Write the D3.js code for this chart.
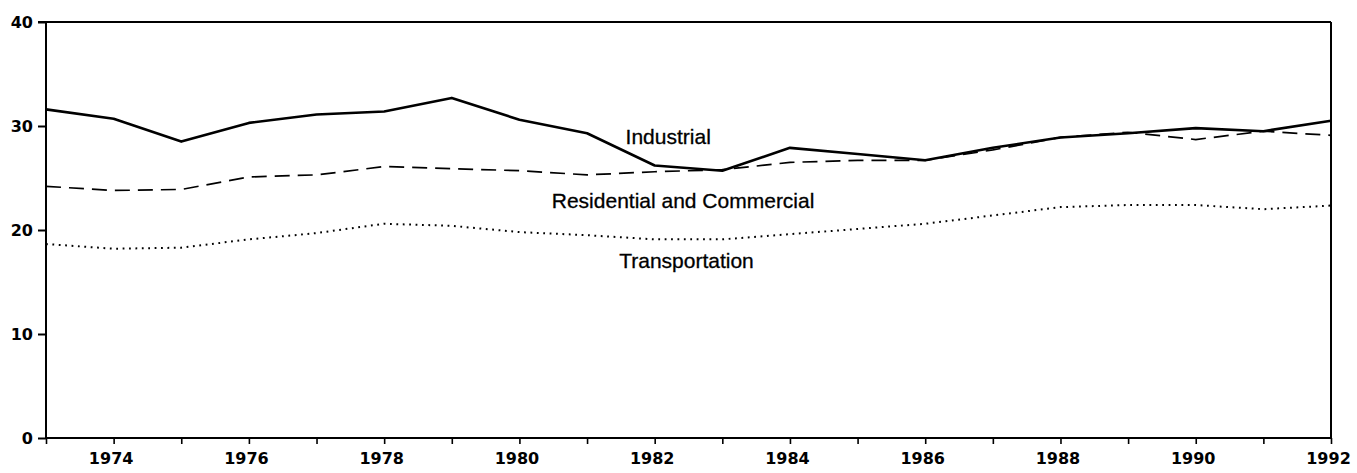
<!DOCTYPE html>
<html>
<head>
<meta charset="utf-8">
<script src="https://cdn.jsdelivr.net/npm/d3@7"></script>
<style>
  html, body { margin: 0; padding: 0; background: #fff; }
  svg { display: block; }
</style>
</head>
<body>
<svg id="chart" width="1357" height="473"></svg>
<script>
const years = d3.range(1973, 1993);
const industrial = [31.6, 30.7, 28.5, 30.3, 31.1, 31.4, 32.7, 30.6, 29.3, 26.2, 25.7, 27.9, 27.3, 26.7, 27.9, 28.9, 29.3, 29.8, 29.5, 30.5];
const residential = [24.2, 23.8, 23.9, 25.1, 25.3, 26.1, 25.9, 25.7, 25.3, 25.6, 25.8, 26.5, 26.7, 26.7, 27.7, 28.9, 29.4, 28.7, 29.5, 29.1];
const transportation = [18.65, 18.2, 18.3, 19.1, 19.7, 20.6, 20.4, 19.8, 19.5, 19.1, 19.1, 19.6, 20.1, 20.6, 21.4, 22.2, 22.4, 22.4, 22.0, 22.35];
const yTicks = [0, 10, 20, 30, 40];
const xLabelYears = [1974, 1976, 1978, 1980, 1982, 1984, 1986, 1988, 1990, 1992];
const seriesLabels = [
  { text: "Industrial", year: 1982.2, value: 28.3 },
  { text: "Residential and Commercial", year: 1982.42, value: 22.1 },
  { text: "Transportation", year: 1982.47, value: 16.35 }
];

const svg = d3.select("#chart");
const x = d3.scaleLinear().domain([1973, 1992]).range([46, 1331]);
const y = d3.scaleLinear().domain([0, 40]).range([438, 22]);

// Frame top and right
svg.append("line").attr("x1", 46).attr("x2", 1331).attr("y1", y(40)).attr("y2", y(40))
  .attr("stroke", "#000").attr("stroke-width", 2);
svg.append("line").attr("x1", 1331).attr("x2", 1331).attr("y1", y(40)).attr("y2", y(0))
  .attr("stroke", "#000").attr("stroke-width", 2);

const tickFont = "DejaVu Sans, Verdana, sans-serif";

// Y axis
const yAxis = d3.axisLeft(y).tickValues(yTicks).tickSize(8).tickPadding(5).tickFormat(d3.format("d"));
const gy = svg.append("g").attr("transform", "translate(46,0)").call(yAxis);
gy.select(".domain").attr("stroke-width", 2).attr("d", `M-8,${y(40)}H0V${y(0)}`);
gy.selectAll(".tick line").attr("stroke-width", 2);
gy.selectAll(".tick text").attr("font-family", tickFont)
  .attr("font-weight", "bold").attr("font-size", 16).attr("fill", "#000");

// X axis
const xAxis = d3.axisBottom(x).tickValues(years).tickSize(6).tickPadding(7)
  .tickFormat(d => xLabelYears.includes(d) ? String(d) : "");
const gx = svg.append("g").attr("transform", `translate(0,${y(0)})`).call(xAxis);
gx.select(".domain").attr("stroke-width", 2).attr("d", `M46,0H1331`);
gx.selectAll(".tick line").attr("stroke-width", 1.6);
gx.selectAll(".tick text").attr("font-family", tickFont)
  .attr("font-weight", "bold").attr("font-size", 16)
  .attr("fill", "#000").attr("dx", -3).attr("dy", "0.8em");

// Lines
const line = d3.line().x((d, i) => x(years[i])).y(d => y(d));
svg.append("path").datum(transportation).attr("d", line).attr("fill", "none")
  .attr("stroke", "#000").attr("stroke-width", 2).attr("stroke-dasharray", "1.8,4.6");
svg.append("path").datum(residential).attr("d", line).attr("fill", "none")
  .attr("stroke", "#000").attr("stroke-width", 1.7).attr("stroke-dasharray", "15,8");
svg.append("path").datum(industrial).attr("d", line).attr("fill", "none")
  .attr("stroke", "#000").attr("stroke-width", 2.6).attr("stroke-linejoin", "round");

// Series labels
svg.selectAll("text.series").data(seriesLabels).enter().append("text")
  .attr("class", "series")
  .attr("x", d => x(d.year)).attr("y", d => y(d.value))
  .attr("text-anchor", "middle")
  .attr("font-family", "Liberation Sans, Arial, sans-serif")
  .attr("font-size", 21).attr("fill", "#000")
  .attr("stroke", "#000").attr("stroke-width", 0.3)
  .text(d => d.text);
</script>
</body>
</html>
